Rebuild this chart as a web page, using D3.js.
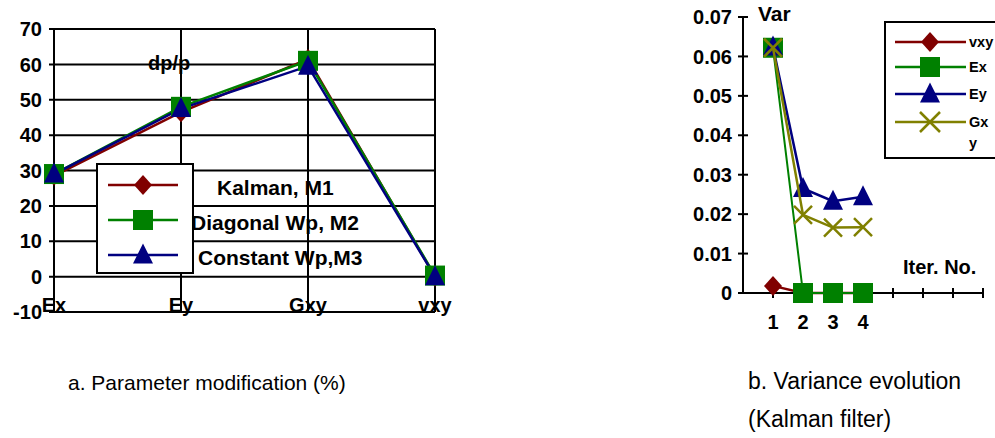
<!DOCTYPE html>
<html><head><meta charset="utf-8">
<script src="https://cdn.jsdelivr.net/npm/d3@7"></script>
<style>
body{margin:0;background:#fff;}
text{font-family:"Liberation Sans",Arial,sans-serif;}
</style></head>
<body>
<svg id="c" width="995" height="438"></svg>
<script>
// ---------- Data: chart a ----------
const catsA = ["Ex","Ey","Gxy","vxy"];
const kalmanM1 = [28.5, 46.5, 61.5, 0];
const diagonalM2 = [29, 48, 61, 0.3];
const constantM3 = [29, 47.5, 59.5, 0];
const seriesNamesA = ["Kalman, M1","Diagonal Wp, M2","Constant Wp,M3"];
const yTicksA = [-10,0,10,20,30,40,50,60,70];

// ---------- Data: chart b ----------
const iters = [1,2,3,4];
const varVxy = [0.0018, 0, 0, 0];
const varEx = [0.0622, 0, 0, 0];
const varEy = [0.0624, 0.0265, 0.0233, 0.0244];
const varGxy = [0.0622, 0.0198, 0.0166, 0.0167];
const seriesNamesB = ["vxy","Ex","Ey","Gx","y"];
const yTicksB = [0,0.01,0.02,0.03,0.04,0.05,0.06,0.07];
const xTicksB = [1,2,3,4,5,6,7,8];
const xLabelsB = ["1","2","3","4"];

const RED="#800000", GREEN="#008000", NAVY="#000080", OLIVE="#808000";
const svg = d3.select("#c");

function marker(g, type, x, y, color, s){
  if(type==="diamond"){
    g.append("path").attr("d",`M${x},${y-s}L${x+s*0.9},${y}L${x},${y+s}L${x-s*0.9},${y}Z`).attr("fill",color);
  } else if(type==="square"){
    g.append("rect").attr("x",x-s).attr("y",y-s).attr("width",2*s).attr("height",2*s).attr("fill",color);
  } else if(type==="triangle"){
    g.append("path").attr("d",`M${x},${y-s*1.15}L${x+s},${y+s*0.85}L${x-s},${y+s*0.85}Z`).attr("fill",color);
  } else if(type==="x"){
    g.append("path").attr("d",`M${x-s},${y-s}L${x+s},${y+s}M${x-s},${y+s}L${x+s},${y-s}`).attr("stroke",color).attr("stroke-width",2.5);
  }
}

// ================= Chart a =================
const xA = d3.scalePoint().domain(catsA).range([54,435]);
const yA = d3.scaleLinear().domain([-10,70]).range([312,29]);
const ga = svg.append("g");

ga.selectAll("line.h").data(yTicksA).join("line")
  .attr("x1",49).attr("x2",435).attr("y1",d=>yA(d)).attr("y2",d=>yA(d))
  .attr("stroke","#000").attr("stroke-width",2);
ga.selectAll("line.v").data(catsA).join("line")
  .attr("x1",d=>xA(d)).attr("x2",d=>xA(d)).attr("y1",yA(70)).attr("y2",yA(-10))
  .attr("stroke","#000").attr("stroke-width",2);
ga.selectAll("text.yt").data(yTicksA).join("text")
  .attr("x",42).attr("y",d=>yA(d)).attr("dy","0.36em").attr("text-anchor","end")
  .attr("font-size",20).attr("font-weight","bold").text(d=>d);
ga.selectAll("text.ct").data(catsA).join("text")
  .attr("x",d=>xA(d)).attr("y",yA(-10)).attr("text-anchor","middle")
  .attr("font-size",20).attr("font-weight","bold").text(d=>d);
ga.append("text").attr("x",148).attr("y",63).attr("dy","0.36em").attr("font-size",20).attr("font-weight","bold").text("dp/p");

const seriesA = [
  {vals:kalmanM1,color:RED,m:"diamond",s:10},
  {vals:diagonalM2,color:GREEN,m:"square",s:10},
  {vals:constantM3,color:NAVY,m:"triangle",s:10}
];
const lineA = d3.line().x((d,i)=>xA(catsA[i])).y(d=>yA(d));
seriesA.forEach(s=>{
  ga.append("path").attr("d",lineA(s.vals)).attr("fill","none").attr("stroke",s.color).attr("stroke-width",2.5);
});
seriesA.forEach(s=>{
  s.vals.forEach((v,i)=>marker(ga,s.m,xA(catsA[i]),yA(v),s.color,s.s));
});
// legend a
ga.append("rect").attr("x",97).attr("y",164).attr("width",96).attr("height",109)
  .attr("fill","#fff").attr("stroke","#000").attr("stroke-width",2);
const legTextX = [217,191,198];
seriesA.forEach((s,i)=>{
  const ly = 185 + i*35;
  ga.append("line").attr("x1",108).attr("x2",178).attr("y1",ly).attr("y2",ly).attr("stroke",s.color).attr("stroke-width",2.5);
  marker(ga,s.m,143,ly,s.color,10);
  ga.append("text").attr("x",legTextX[i]).attr("y",ly+2).attr("dy","0.36em").attr("font-size",21).attr("font-weight","bold").text(seriesNamesA[i]);
});

// ================= Chart b =================
const xB = d3.scaleLinear().domain([0,8]).range([743,983]);
const yB = d3.scaleLinear().domain([0,0.07]).range([293,17]);
const gb = svg.append("g");
gb.append("line").attr("x1",xB(0)).attr("x2",xB(0)).attr("y1",yB(0.07)).attr("y2",yB(0)).attr("stroke","#000").attr("stroke-width",2);
gb.append("line").attr("x1",xB(0)).attr("x2",xB(8)).attr("y1",yB(0)).attr("y2",yB(0)).attr("stroke","#000").attr("stroke-width",2);
gb.selectAll("line.yt").data(yTicksB).join("line")
  .attr("x1",xB(0)-5).attr("x2",xB(0)+5).attr("y1",d=>yB(d)).attr("y2",d=>yB(d)).attr("stroke","#000").attr("stroke-width",2);
gb.selectAll("line.xt").data(xTicksB).join("line")
  .attr("x1",d=>xB(d)).attr("x2",d=>xB(d)).attr("y1",yB(0)-5).attr("y2",yB(0)+5).attr("stroke","#000").attr("stroke-width",2);
gb.selectAll("text.ytl").data(yTicksB).join("text")
  .attr("x",732).attr("y",d=>yB(d)).attr("dy","0.36em").attr("text-anchor","end")
  .attr("font-size",20).attr("font-weight","bold").text(d=>d===0?"0":d.toFixed(2));
gb.selectAll("text.xtl").data(xLabelsB).join("text")
  .attr("x",(d,i)=>xB(iters[i])).attr("y",322).attr("dy","0.36em").attr("text-anchor","middle")
  .attr("font-size",20).attr("font-weight","bold").text(d=>d);
gb.append("text").attr("x",758).attr("y",13).attr("dy","0.36em").attr("font-size",21).attr("font-weight","bold").text("Var");
gb.append("text").attr("x",903).attr("y",267).attr("dy","0.36em").attr("font-size",20).attr("font-weight","bold").text("Iter. No.");

const seriesB = [
  {vals:varVxy,color:RED,m:"diamond",s:10},
  {vals:varEx,color:GREEN,m:"square",s:10},
  {vals:varEy,color:NAVY,m:"triangle",s:10},
  {vals:varGxy,color:OLIVE,m:"x",s:9}
];
const lineB = d3.line().x((d,i)=>xB(iters[i])).y(d=>yB(d));
seriesB.forEach(s=>{
  gb.append("path").attr("d",lineB(s.vals)).attr("fill","none").attr("stroke",s.color).attr("stroke-width",s.color===GREEN?2:2.5);
  s.vals.forEach((v,i)=>marker(gb,s.m,xB(iters[i]),yB(v),s.color,s.s));
});
// legend b
gb.append("rect").attr("x",885).attr("y",22).attr("width",115).attr("height",136)
  .attr("fill","#fff").attr("stroke","#000").attr("stroke-width",2);
const legRowsB = [42,67,94,122];
seriesB.forEach((s,i)=>{
  const ly = legRowsB[i];
  gb.append("line").attr("x1",895).attr("x2",966).attr("y1",ly).attr("y2",ly).attr("stroke",s.color).attr("stroke-width",2.5);
  marker(gb,s.m,930,ly,s.color,10);
});
const legB = gb.append("g").attr("font-size",14.5).attr("font-weight","bold");
legB.selectAll("text").data(seriesNamesB).join("text")
  .attr("x",969).attr("y",(d,i)=>i<4?legRowsB[i]:143).attr("dy","0.36em").text(d=>d);

// captions
svg.append("text").attr("x",68).attr("y",390).attr("font-size",21).text("a. Parameter modification (%)");
svg.append("text").attr("x",748).attr("y",389).attr("font-size",23).text("b. Variance evolution");
svg.append("text").attr("x",748).attr("y",427).attr("font-size",23).text("(Kalman filter)");
</script>
</body></html>
